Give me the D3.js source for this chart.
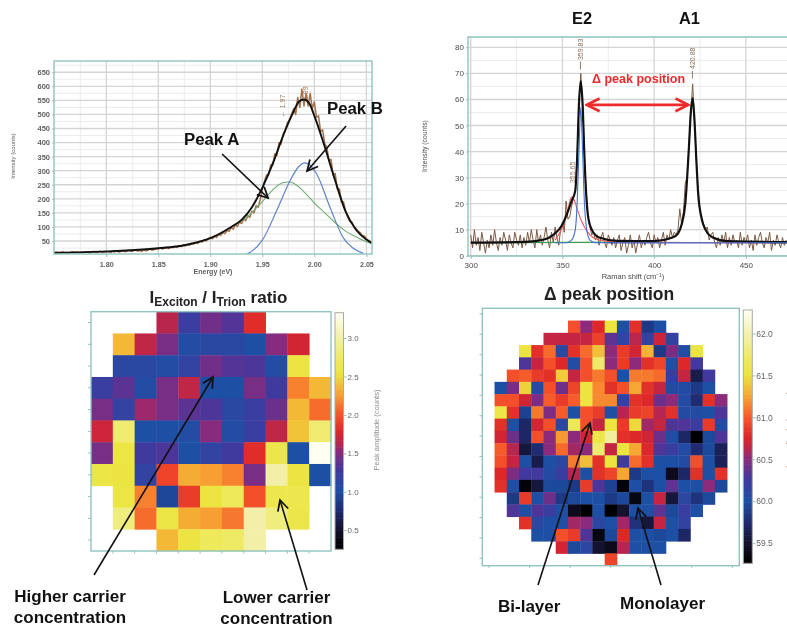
<!DOCTYPE html>
<html><head><meta charset="utf-8">
<style>
html,body{margin:0;padding:0;background:#fff;overflow:hidden}
svg{display:block;font-family:"Liberation Sans",Arial,sans-serif;filter:blur(0.45px)}
</style>
<script src="https://d3js.org/d3.v7.min.js"></script>
</head><body>
<svg id="c" width="787" height="630"></svg>
<script>
// ---------- PL spectrum ----------
const plTicksX=[1.80,1.85,1.90,1.95,2.00,2.05];
const plMinorX=[1.775,1.825,1.875,1.925,1.975,2.025];
const plTicksY=[50,100,150,200,250,300,350,400,450,500,550,600,650];
const plMinorY=[25,75,125,175,225,275,325,375,425,475,525,575,625,675];
const plFitE=[1.75,1.80,1.85,1.875,1.90,1.92,1.93,1.94,1.95,1.96,1.97,1.98,1.985,1.99,1.995,2.00,2.01,2.02,2.03,2.04,2.05,2.055];
const plFitI=[8,13,24,35,60,100,125,170,240,325,425,510,545,553,540,495,385,265,155,90,55,43];
const plGreenE=[1.92,1.935,1.95,1.96,1.97,1.975,1.98,1.99,2.00,2.01,2.02,2.03,2.04,2.05,2.055];
const plGreenI=[100,135,190,232,258,260,255,225,185,150,115,85,65,47,40];
const plBlueE=[1.935,1.94,1.95,1.964,1.977,1.985,1.991,2.002,2.015,2.028,2.037,2.047];
const plBlueI=[4,14,53,160,267,315,328,290,170,60,25,6];
const plRawStart=1.75, plRawStep=0.002;
const plRawI=[8,10,7,9,11,8,9,7,10,12,9,11,8,10,9,12,10,8,11,13,9,11,14,10,12,11,13,10,14,12,15,11,13,16,12,14,17,13,15,18,14,16,13,19,15,18,21,17,20,23,22,
26,21,25,28,23,29,26,31,27,34,30,36,33,38,35,42,39,45,41,49,46,54,50,58,62,
58,68,63,74,70,80,76,88,84,98,92,108,102,118,112,128,122,140,134,156,150,176,170,198,232,
262,285,285,320,320,360,355,400,395,430,445,470,480,500,520,500,560,525,590,530,
575,530,575,520,545,490,495,440,445,395,385,335,340,285,290,235,235,190,190,155,
135,120,118,100,95,85,80,70,68,58,52,48];
// ---------- Raman spectrum ----------
const raTicksX=[300,350,400,450];
const raMinorX=[325,375,425];
const raTicksY=[0,10,20,30,40,50,60,70,80];
const raMinorY=[5,15,25,35,45,55,65,75];
const raFitX=[300,330,340,345,350,353,355,357,358,359,360,361,362,363,364,366,370,380,400,410,413,415,417,419,420,421,422,423,424,426,428,432,440,474];
const raFitY=[5,5.3,6.2,8,12,17,21,25,37,58,67,58,38,23,15,10,7,5.7,5.6,7,8.5,12,20,42,55,60.5,52,37,24,14,10,7,5.6,5.2];
const raRedX=[346,350,353,355,356,358,360,362,365,370,380,474];
const raRedY=[6,11,18,22.5,22,18,14,11,8,6,5.2,5];
const raBlueX=[346,352,355,357,358,359,360,361,362,363,364,365,368,474];
const raBlueY=[5,5,6,10,20,40,57,40,20,11,7.5,6,5,5];
const raGreenX=[300,400];
const raGreenY=[5,5.2];
const raNavyX=[375,474];
const raNavyY=[5,5];
const raRawStart=300;
const raRawY=[8,3,10,4,7,2,9,5,1,6,
3,8,4,10,5,2,7,4,9,6,
2,8,5,3,9,6,4,8,3,7,
4,9,5,10,6,3,10,5,8,4,
7,11,6,3,9,5,11,7,4,10,
13,9,21,14,15,19,22,25,38,58,
70,58,38,24,15,11,8,9,6,8,
4,7,9,5,3,8,6,4,7,3,
6,8,2,5,7,1,4,8,3,6,
1,5,8,3,6,4,7,9,5,3,
8,5,7,3,6,9,4,8,6,10,
7,9,8,10,18,12,17,28,30,42,
55,66,52,37,25,17,14,12,10,11,
6,8,9,5,3,7,4,8,5,9,
3,7,4,8,5,6,3,9,4,7,
5,8,3,6,2,8,4,7,9,5,
3,7,5,9,2,6,4,8,5,3,
7,4,6];
// ---------- Ratio map ----------
const ratioRows=[
[null,null,null,1.62,1.2,1.42,1.32,1.8,null,null,null],
[null,2.35,1.65,1.45,1.05,1.1,1.1,1.0,1.5,1.72,null],
[null,1.1,1.1,1.05,1.15,1.42,1.32,1.3,1.05,2.55,null],
[1.2,1.35,1.05,1.45,1.65,1.0,1.0,1.45,1.25,2.15,2.35],
[1.45,1.15,1.55,1.45,1.35,1.3,1.1,1.2,1.4,2.35,2.08],
[1.7,2.8,1.0,1.0,1.05,1.5,1.05,1.2,1.65,2.4,2.8],
[1.45,2.58,1.25,1.3,1.0,1.15,1.25,1.8,2.6,1.0,3.3],
[2.58,2.55,1.15,1.92,2.3,2.25,2.15,1.45,3.0,2.55,1.0],
[null,2.58,2.15,0.95,1.88,2.55,2.7,1.98,2.62,2.62,null],
[null,2.85,2.08,2.58,2.3,2.25,2.12,3.0,2.85,2.6,null],
[null,null,null,2.35,2.55,2.7,2.75,3.0,null,null,null]];
const ratioBarTicks=[0.5,1.0,1.5,2.0,2.5,3.0];
// ---------- Delta map ----------
const deltaRowStart=[6,4,2,2,1,0,0,0,0,0,0,0,0,0,1,1,2,3,5,9];
const deltaRows=[
[60.95,60.5,60.75,61.5,60.0,60.8,59.85,60.0],
[60.65,60.65,60.65,60.65,60.88,60.35,60.12,60.62,60.15,60.68,60.15],
[61.5,60.8,61.05,60.08,60.8,61.05,61.35,60.5,60.85,60.7,61.3,59.85,60.45,60.05,61.5],
[60.3,60.65,60.95,60.75,60.02,60.95,61.72,60.5,60.85,60.5,60.8,60.9,60.0,60.75,60.25],
[60.95,61.0,60.85,60.8,61.4,60.65,60.95,61.1,60.95,60.0,61.1,61.1,61.05,60.2,60.65,59.6,60.25],
[60.0,60.45,61.42,60.05,60.95,60.4,60.9,61.5,61.15,60.8,60.95,61.25,60.8,60.65,60.05,60.05,59.85,60.0],
[60.95,60.95,60.7,60.45,61.0,60.85,61.0,61.5,61.15,61.15,60.15,60.8,60.75,60.4,60.5,60.05,59.75,60.8,60.5],
[61.55,60.8,59.9,61.1,60.45,61.0,60.0,60.95,60.85,60.0,60.6,60.85,60.9,60.6,60.8,60.05,60.05,60.0,60.3],
[60.8,60.0,59.7,60.7,60.95,60.1,61.65,60.95,60.65,61.5,60.85,61.45,60.55,60.65,60.3,60.3,60.2,60.85,60.05],
[60.7,60.4,59.7,60.95,60.5,61.2,60.5,60.7,61.55,61.9,60.8,60.75,60.7,60.4,60.0,59.7,59.26,59.95,60.3],
[61.0,60.6,59.55,59.75,60.5,61.05,60.55,60.5,61.75,60.65,61.5,61.25,60.75,60.3,60.2,60.05,59.75,59.95,59.65],
[60.95,60.65,60.0,59.6,60.0,60.1,61.1,61.35,60.8,61.5,60.25,61.05,60.8,60.0,60.0,60.05,60.95,60.0,59.65],
[60.75,60.45,60.25,60.25,60.05,60.2,60.6,60.0,60.8,60.9,61.25,59.85,60.0,60.0,59.4,59.7,60.8,60.0,60.8],
[60.8,60.0,59.3,59.55,59.95,59.95,59.85,60.85,60.3,59.9,59.3,60.0,59.8,60.0,60.35,60.0,60.0,60.5,59.95],
[59.85,60.85,60.0,60.4,59.85,59.95,60.0,60.0,59.85,59.95,59.35,60.0,60.65,59.55,60.1,59.8,59.95],
[60.3,60.0,60.3,60.2,60.0,59.4,59.26,60.0,59.26,59.5,60.0,60.0,60.35,59.95,60.2,60.0],
[60.8,60.1,60.0,60.0,60.55,60.5,60.1,60.0,60.55,59.8,59.55,60.65,60.0,60.15],
[60.0,60.0,60.95,60.85,60.3,59.35,59.95,60.75,60.0,60.0,59.95,60.0,59.7],
[60.7,59.95,60.1,59.5,59.4,60.6,60.0,60.0,60.0],
[60.9]];
const deltaBarTicks=[59.5,60.0,60.5,61.0,61.5,62.0];
// ---------- colour ramp ----------
const rampStops=[0,0.08,0.16,0.245,0.33,0.41,0.445,0.49,0.57,0.65,0.74,0.81,0.89,1];
const rampColors=["#000000","#14122e","#1f2b72","#1d50a5","#42389e","#8b2a7c","#b8264e","#dc2529","#f6552a","#f7a032","#ece43e","#eeea62","#f2f0a6","#fffff8"];
const ramp=d3.scaleLinear().domain(rampStops).range(rampColors).interpolate(d3.interpolateRgb);

const svg=d3.select("#c");
const TEAL="#8fc4c0", TXT="#5f5f5f";
const defs=svg.append("defs");
defs.append("marker").attr("id","ah").attr("viewBox","-10 -6 12 12").attr("refX",0).attr("refY",0)
 .attr("markerUnits","userSpaceOnUse").attr("markerWidth",14).attr("markerHeight",14).attr("orient","auto")
 .append("path").attr("d","M-9,-4.6 L0,0 L-9,4.6").attr("fill","none").attr("stroke","#111").attr("stroke-width",1.5);
defs.append("marker").attr("id","rh").attr("viewBox","-12 -7 14 14").attr("refX",0).attr("refY",0)
 .attr("markerUnits","userSpaceOnUse").attr("markerWidth",16).attr("markerHeight",16).attr("orient","auto-start-reverse")
 .append("path").attr("d","M-11,-5.5 L0,0 L-11,5.5").attr("fill","none").attr("stroke","#ee2a2a").attr("stroke-width",2.4);

function grid(g,x,y,xs,ys,col,w){
  g.selectAll(null).data(xs).join("line").attr("x1",d=>x(d)).attr("x2",d=>x(d)).attr("y1",y.range()[0]).attr("y2",y.range()[1]).attr("stroke",col).attr("stroke-width",w);
  g.selectAll(null).data(ys).join("line").attr("y1",d=>y(d)).attr("y2",d=>y(d)).attr("x1",x.range()[0]).attr("x2",x.range()[1]).attr("stroke",col).attr("stroke-width",w);
}
function styleAxis(g,size,col,w){
  g.selectAll("text").attr("font-size",size).attr("fill",col).attr("font-weight",w||"normal");
  g.selectAll("line").attr("stroke",TEAL);
  g.select(".domain").remove();
}
function pairs(a,b){return a.map((d,i)=>[d,b[i]]);}
function curve(g,x,y,data,col,w,c){
  g.append("path").datum(data).attr("fill","none").attr("stroke",col).attr("stroke-width",w).attr("stroke-linejoin","round")
   .attr("d",d3.line().x(d=>x(d[0])).y(d=>y(d[1])).curve(c||d3.curveMonotoneX));
}
function rotText(x,y,t,size,col,anchor){
  return svg.append("text").attr("transform",`translate(${x},${y}) rotate(-90)`).attr("text-anchor",anchor||"middle")
    .attr("font-size",size).attr("fill",col).text(t);
}
function bold(x,y,t,size,anchor,col){
  return svg.append("text").attr("x",x).attr("y",y).attr("font-size",size).attr("font-weight","bold").attr("text-anchor",anchor||"start").attr("fill",col||"#111").text(t);
}
function arrow(x1,y1,x2,y2){
  svg.append("line").attr("x1",x1).attr("y1",y1).attr("x2",x2).attr("y2",y2).attr("stroke","#111").attr("stroke-width",1.6).attr("marker-end","url(#ah)");
}

// ===== Panel A: PL =====
{
 const x=d3.scaleLinear().domain([1.7497,2.0554]).range([54,372]);
 const y=d3.scaleLinear().domain([3.8,690]).range([254,61]);
 const cid="cpA";
 defs.append("clipPath").attr("id",cid).append("rect").attr("x",54).attr("y",61).attr("width",318).attr("height",193);
 const g=svg.append("g");
 grid(g,x,y,plMinorX,plMinorY,"#ececec",1);
 grid(g,x,y,plTicksX,plTicksY,"#d4d4d4",1.3);
 const pg=g.append("g").attr("clip-path",`url(#${cid})`);
 curve(pg,x,y,plRawI.map((v,i)=>[plRawStart+plRawStep*i,v]),"#a5724c",1.5,d3.curveLinear);
 curve(pg,x,y,pairs(plGreenE,plGreenI),"#6fae72",1.1);
 curve(pg,x,y,pairs(plBlueE,plBlueI),"#5c84c8",1.2);
 curve(pg,x,y,pairs(plFitE,plFitI),"#111",1.9);
 g.append("rect").attr("x",54).attr("y",61).attr("width",318).attr("height",193).attr("fill","none").attr("stroke",TEAL).attr("stroke-width",1.4);
 const ax=g.append("g").attr("transform","translate(0,254)").call(d3.axisBottom(x).tickValues(plTicksX).tickFormat(d3.format(".2f")).tickSize(3).tickPadding(5));
 styleAxis(ax,7.2,TXT,"bold");
 const ay=g.append("g").attr("transform","translate(54,0)").call(d3.axisLeft(y).tickValues(plTicksY).tickFormat(d3.format("d")).tickSize(2).tickPadding(2));
 styleAxis(ay,7.5,TXT,"bold");
 svg.append("text").attr("x",213).attr("y",274).attr("text-anchor","middle").attr("font-size",7).attr("font-weight","bold").attr("fill",TXT).text("Energy (eV)");
 rotText(15,156,"Intensity (counts)",6,TXT);
 rotText(x(1.97)+2,y(490),"← 1.97",7,"#9a7358","start");
 rotText(x(1.9915)+2,y(551),"1.99",7,"#9a7358","start");
 bold(184,145,"Peak A",16.8);
 bold(327,114,"Peak B",16.8);
 arrow(x(1.9113),y(359.5),x(1.9555),y(203));
 arrow(x(2.0305),y(459),x(1.993),y(299));
}
// ===== Panel B: Raman =====
{
 const x=d3.scaleLinear().domain([298.5,473]).range([468,788]);
 const y=d3.scaleLinear().domain([0,80]).range([255.7,47.3]);
 const g=svg.append("g");
 const cid="cpB";
 defs.append("clipPath").attr("id",cid).append("rect").attr("x",468).attr("y",37).attr("width",320).attr("height",219);
 const yy=d3.scaleLinear().domain([0,84]).range([255.7,37]);
 grid(g,x,yy,raMinorX,raMinorY,"#ececec",1);
 grid(g,x,yy,raTicksX,raTicksY,"#d4d4d4",1.3);
 const pg=g.append("g").attr("clip-path",`url(#${cid})`);
 curve(pg,x,y,raRawY.map((v,i)=>[raRawStart+i,v]),"#7d5a42",1,d3.curveLinear);
 curve(pg,x,y,pairs(raGreenX,raGreenY),"#3f9a4f",1.2);
 curve(pg,x,y,pairs(raNavyX,raNavyY),"#23288f",1.2);
 curve(pg,x,y,pairs(raRedX,raRedY),"#ef5b5b",1.1);
 curve(pg,x,y,pairs(raFitX,raFitY),"#111",2.2);
 curve(pg,x,y,pairs(raBlueX,raBlueY),"#3f6fd0",1.1);
 g.append("path").attr("d","M788,37 H468 V256 H788").attr("fill","none").attr("stroke",TEAL).attr("stroke-width",1.4);
 const ax=g.append("g").attr("transform","translate(0,256)").call(d3.axisBottom(x).tickValues(raTicksX).tickFormat(d3.format("d")).tickSize(3).tickPadding(3));
 styleAxis(ax,8,"#4a4a4a");
 const ay=g.append("g").attr("transform","translate(468,0)").call(d3.axisLeft(y).tickValues(raTicksY).tickFormat(d3.format("d")).tickSize(2).tickPadding(2));
 styleAxis(ay,8,"#4a4a4a");
 svg.append("text").attr("x",633).attr("y",279).attr("text-anchor","middle").attr("font-size",7.5).attr("fill","#4a4a4a").text("Raman shift (cm⁻¹)");
 rotText(427,146,"Intensity (counts)",6.8,"#4a4a4a");
 rotText(x(359.83)+3,y(75.1),"359.83",7,"#8a6c58","start");
 rotText(x(420.88)+3,y(71.7),"420.88",7,"#8a6c58","start");
 rotText(x(355.65)+2.5,y(27.9),"355.65",7,"#9a7c68","start");
 const pts=g.append("g").attr("stroke","#8a6c58").attr("stroke-width",0.9);
 pts.append("line").attr("x1",x(359.83)).attr("x2",x(359.83)).attr("y1",y(74.5)).attr("y2",y(71.5));
 pts.append("line").attr("x1",x(420.88)).attr("x2",x(420.88)).attr("y1",y(71)).attr("y2",y(68));
 bold(572,24,"E2",16.4);
 bold(679,24,"A1",16.4);
 bold(592,83,"Δ peak position",12.5,"start","#ee2a2a");
 svg.append("line").attr("x1",x(363.4)).attr("x2",x(418.5)).attr("y1",y(57.9)).attr("y2",y(57.9)).attr("stroke","#ee2a2a").attr("stroke-width",2.6).attr("marker-start","url(#rh)").attr("marker-end","url(#rh)");
}
// ===== heat maps =====
function heat(rows,starts,n,fx,fy,fw,fh,cdom,cb,bt){
  const col=d3.scaleBand().domain(d3.range(n)).range([fx,fx+fw]);
  const row=d3.scaleBand().domain(d3.range(n)).range([fy,fy+fh]);
  const c=d3.scaleLinear().domain(cdom).range([0,1]).clamp(true);
  const g=svg.append("g");
  g.append("rect").attr("x",fx).attr("y",fy).attr("width",fw).attr("height",fh).attr("fill","#fff");
  rows.forEach((r,ri)=>{
    g.selectAll(null).data(r.map((v,i)=>({v,i})).filter(d=>d.v!==null)).join("rect")
     .attr("x",d=>col(d.i+starts.s(ri))).attr("y",row(ri+starts.r))
     .attr("width",col.bandwidth()+0.4).attr("height",row.bandwidth()+0.4)
     .attr("fill",d=>ramp(c(d.v)));
  });
  g.append("rect").attr("x",fx).attr("y",fy).attr("width",fw).attr("height",fh).attr("fill","none").attr("stroke",TEAL).attr("stroke-width",1.4);
  const by=d3.scaleLinear().domain(cdom).range([cb.y1,cb.y0]);
  const steps=d3.range(0,1.0001,0.01);
  g.selectAll(null).data(steps).join("rect").attr("x",cb.x).attr("width",cb.w)
    .attr("y",d=>by(cdom[0]+d*(cdom[1]-cdom[0]))-(cb.y1-cb.y0)/100-0.3).attr("height",(cb.y1-cb.y0)/100+0.6).attr("fill",d=>ramp(d));
  g.append("rect").attr("x",cb.x).attr("y",cb.y0).attr("width",cb.w).attr("height",cb.y1-cb.y0).attr("fill","none").attr("stroke","#aaa").attr("stroke-width",1);
  const ab=g.append("g").attr("transform",`translate(${cb.x+cb.w},0)`).call(d3.axisRight(by).tickValues(bt).tickFormat(d3.format(".1f")).tickSize(3).tickPadding(1));
  ab.select(".domain").remove();
  ab.selectAll("text").attr("font-size",cb.fs).attr("fill","#666");
  ab.selectAll("line").attr("stroke","#9bbdbb");
  return {col,row};
}
{
 const m=heat(ratioRows,{s:()=>0,r:0},11,91,311.7,240,239.3,[0.25,3.33],{x:335,w:8.5,y0:312.7,y1:549.3,fs:8},ratioBarTicks);
 const tg=svg.append("g").attr("stroke",TEAL);
 tg.selectAll(null).data(d3.range(11)).join("line").attr("x1",88).attr("x2",91).attr("y1",d=>m.row(d)+m.row.bandwidth()/2).attr("y2",d=>m.row(d)+m.row.bandwidth()/2);
 tg.selectAll(null).data(d3.range(10)).join("line").attr("y1",551).attr("y2",553.5).attr("x1",d=>m.col(d)+m.col.bandwidth()).attr("x2",d=>m.col(d)+m.col.bandwidth());
 rotText(379,430,"Peak amplitude (counts)",7.5,"#8f8f8f");
 const t=svg.append("text").attr("x",218.5).attr("y",303).attr("text-anchor","middle").attr("font-weight","bold").attr("font-size",17).attr("fill","#222");
 t.append("tspan").text("I");
 t.append("tspan").attr("font-size",12).attr("dy",3).text("Exciton");
 t.append("tspan").attr("dy",-3).text(" / I");
 t.append("tspan").attr("font-size",12).attr("dy",3).text("Trion");
 t.append("tspan").attr("dy",-3).text(" ratio");
 arrow(94,575,213,377);
 arrow(307,590,280,500);
 bold(70,602,"Higher carrier",17,"middle");
 bold(70,623,"concentration",17,"middle");
 bold(276.5,603,"Lower carrier",17,"middle");
 bold(276.5,624,"concentration",17,"middle");
}
{
 const m=heat(deltaRows,{s:ri=>deltaRowStart[ri]+1,r:1},21,482.3,308.3,257,257.4,[59.26,62.28],{x:743.3,w:9,y0:310,y1:563.3,fs:8.5},deltaBarTicks);
 const leftTicks=d3.scaleLinear().domain([0,12]).range([314,558.3]);
 const botTicks=d3.scaleLinear().domain([0,6]).range([489,732.3]);
 const tg=svg.append("g").attr("stroke",TEAL);
 tg.selectAll(null).data(d3.range(13)).join("line").attr("x1",479.5).attr("x2",482.3).attr("y1",d=>leftTicks(d)).attr("y2",d=>leftTicks(d));
 tg.selectAll(null).data(d3.range(7)).join("line").attr("y1",565.7).attr("y2",568).attr("x1",d=>botTicks(d)).attr("x2",d=>botTicks(d));
 bold(544,300,"Δ peak position",17.5,"start","#222");
 rotText(793,437,"Peak amplitude (counts)",8.5,"#a5785a");
 arrow(538,585,590,423);
 arrow(661,585,638,508);
 bold(498,612,"Bi-layer",17);
 bold(620,609,"Monolayer",17);
}
</script>
</body></html>
